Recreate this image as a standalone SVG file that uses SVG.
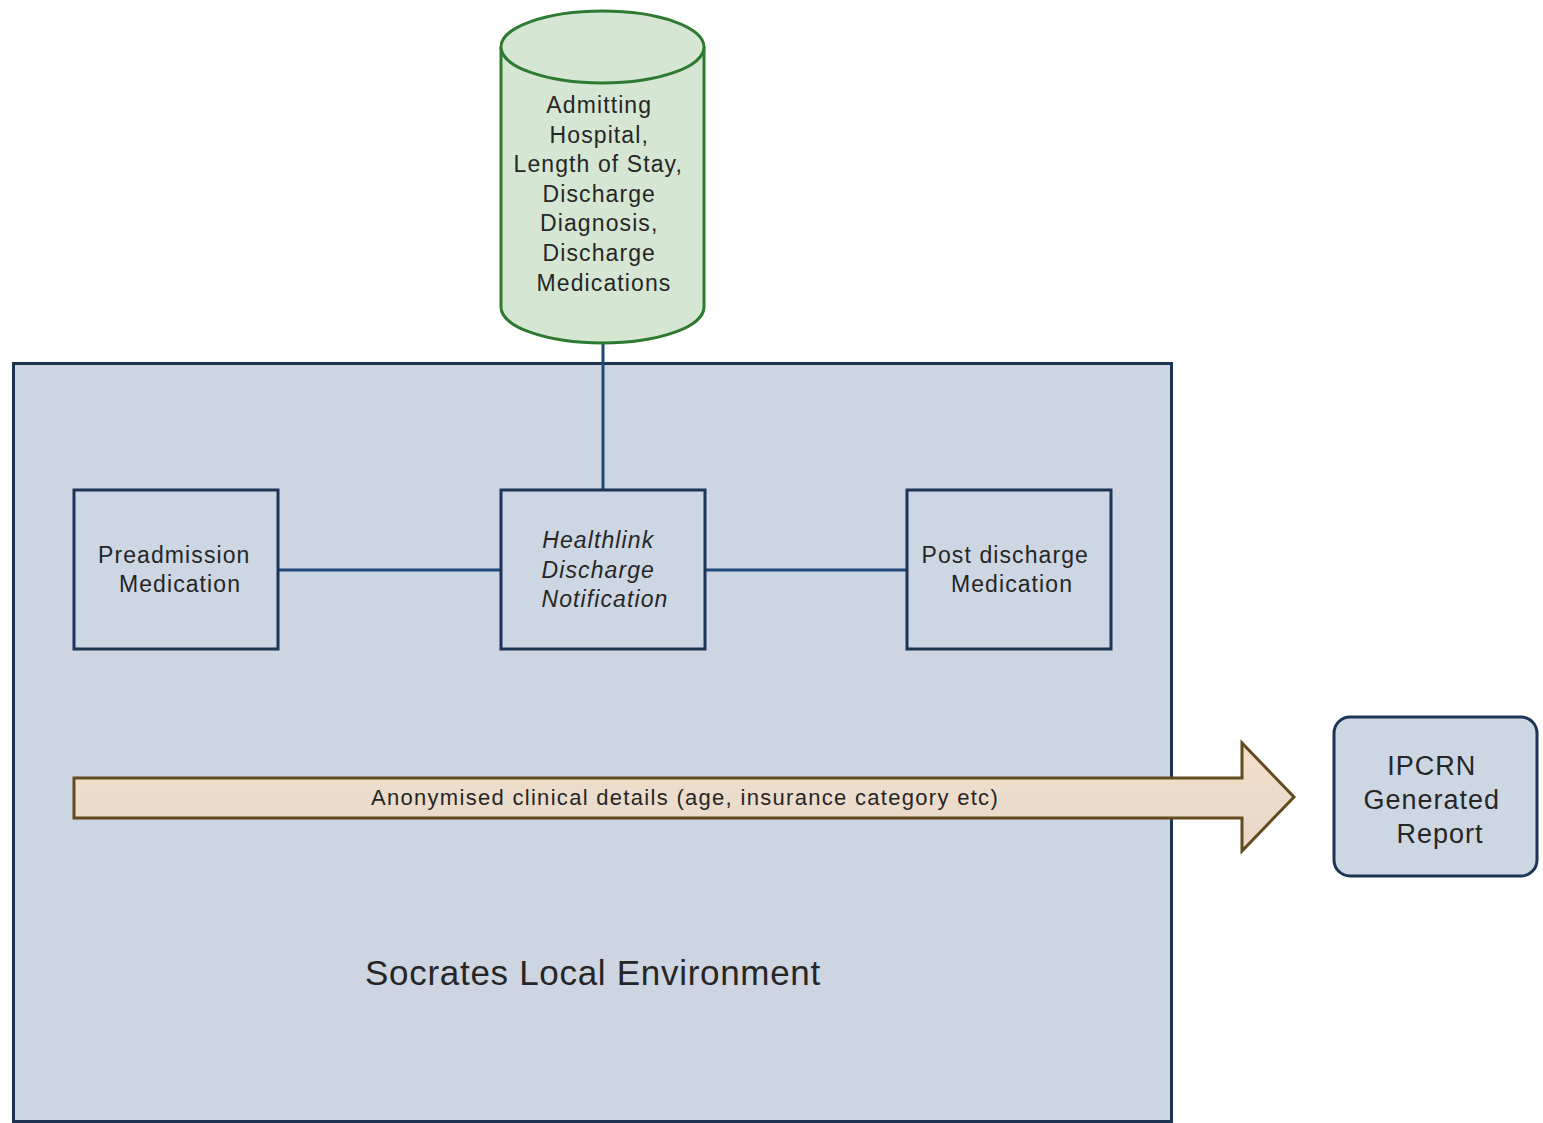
<svg xmlns="http://www.w3.org/2000/svg" width="1543" height="1123" viewBox="0 0 1543 1123">
  <style>
    .lbl { font-family: "Liberation Sans", Arial, sans-serif; fill: #262626; text-anchor: middle; }
    .node { font-size: 23px; letter-spacing: 1.1px; }
    .box { fill: #cdd6e3; stroke: #1c3556; stroke-width: 3; }
    .link { stroke: #1f4a78; stroke-width: 3; fill: none; }
  </style>
  <defs>
    <linearGradient id="arrowFill" x1="0" y1="0" x2="0" y2="1">
      <stop offset="0" stop-color="#f6dfc6"/>
      <stop offset="0.5" stop-color="#ecdccb"/>
      <stop offset="1" stop-color="#e9d7c3"/>
    </linearGradient>
  </defs>
  <rect width="1543" height="1123" fill="#ffffff"/>

  <!-- container -->
  <g id="socrates-env">
    <rect x="13.5" y="363.5" width="1158" height="758" fill="#cdd5e2" stroke="#1c3352" stroke-width="3"/>
    <text class="lbl" x="593" y="985" font-size="35" letter-spacing="0.7">Socrates Local Environment</text>
  </g>

  <!-- connectors -->
  <g id="connectors">
    <line class="link" x1="603" y1="343" x2="603" y2="490"/>
    <line class="link" x1="278" y1="570" x2="500" y2="570"/>
    <line class="link" x1="705" y1="570" x2="907" y2="570"/>
  </g>

  <!-- data store cylinder -->
  <g id="hospital-data">
    <path d="M501,47 L501,307 A101.5,36 0 0 0 704,307 L704,47" fill="#d5e7d3" stroke="#2e7a30" stroke-width="3"/>
    <ellipse cx="602.5" cy="47" rx="101.5" ry="36" fill="#d5e7d3" stroke="#2e7a30" stroke-width="3"/>
    <text class="lbl node" letter-spacing="0.7">
      <tspan x="603" y="113">Admitting</tspan>
      <tspan x="603" y="143">Hospital,</tspan>
      <tspan x="602" y="172">Length of Stay,</tspan>
      <tspan x="603" y="202">Discharge</tspan>
      <tspan x="603" y="231">Diagnosis,</tspan>
      <tspan x="603" y="261">Discharge</tspan>
      <tspan x="604" y="291">Medications</tspan>
    </text>
  </g>

  <g id="preadmission">
    <rect class="box" x="74" y="490" width="204" height="159"/>
    <text class="lbl node" letter-spacing="1.8">
      <tspan x="178" y="563">Preadmission</tspan>
      <tspan x="180" y="592">Medication</tspan>
    </text>
  </g>

  <g id="healthlink">
    <rect class="box" x="501" y="490" width="204" height="159"/>
    <text class="lbl node" font-style="italic" letter-spacing="0.8">
      <tspan x="602" y="548">Healthlink</tspan>
      <tspan x="602" y="578">Discharge</tspan>
      <tspan x="605" y="607">Notification</tspan>
    </text>
  </g>

  <g id="post-discharge">
    <rect class="box" x="907" y="490" width="204" height="159"/>
    <text class="lbl node">
      <tspan x="1009" y="563">Post discharge</tspan>
      <tspan x="1012" y="592">Medication</tspan>
    </text>
  </g>

  <!-- block arrow -->
  <g id="anonymised-flow">
    <path d="M74,778 L1242,778 L1242,743 L1294,797 L1242,851 L1242,818 L74,818 Z" fill="url(#arrowFill)" stroke="#644a1f" stroke-width="3" stroke-linejoin="miter"/>
    <text class="lbl" x="685" y="805" font-size="22" letter-spacing="1.3">Anonymised clinical details (age, insurance category etc)</text>
  </g>

  <g id="ipcrn-report">
    <rect class="box" x="1334" y="717" width="203" height="159" rx="16" ry="16"/>
    <text class="lbl" font-size="27" letter-spacing="1">
      <tspan x="1436" y="775">IPCRN</tspan>
      <tspan x="1436" y="809">Generated</tspan>
      <tspan x="1440" y="843">Report</tspan>
    </text>
  </g>
</svg>
